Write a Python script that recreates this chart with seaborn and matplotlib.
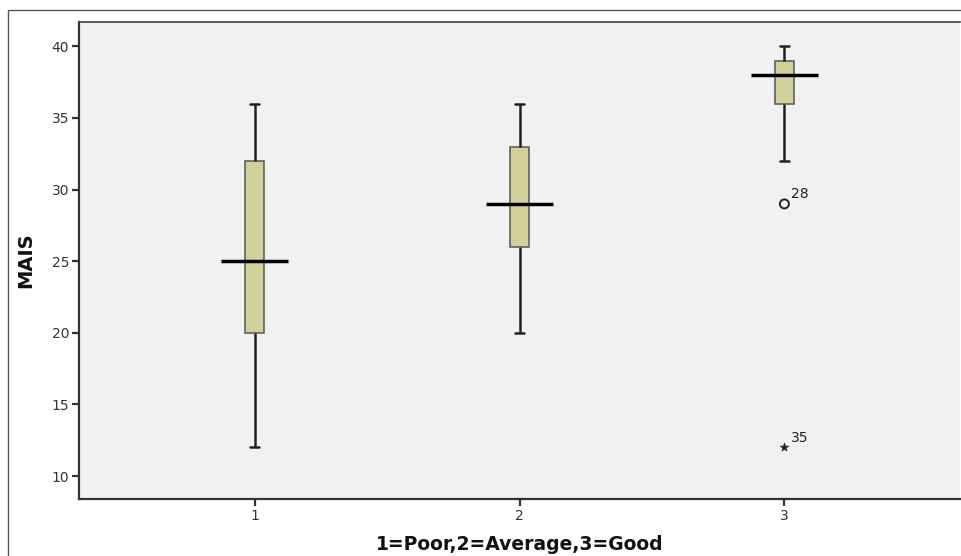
import numpy as np
import pandas as pd
import matplotlib
matplotlib.use("Agg")
import matplotlib.pyplot as plt
import seaborn as sns
from matplotlib.patches import Rectangle

# ---- data ----
categories = ["1", "2", "3"]
group1_values = [12, 20, 25, 32, 36]
group2_values = [20, 26, 29, 33, 36]
group3_values = [12, 29, 32, 36, 37, 38, 38, 38, 39, 39, 40, 40, 40]
outlier_group = ["3", "3"]
outlier_value = [29, 12]
outlier_label = ["28", "35"]
outlier_marker = ["o", "*"]
y_ticks = [10, 15, 20, 25, 30, 35, 40]
x_title = "1=Poor,2=Average,3=Good"
y_title = "MAIS"

df = pd.DataFrame({
    "group": ["1"] * len(group1_values) + ["2"] * len(group2_values) + ["3"] * len(group3_values),
    "value": group1_values + group2_values + group3_values,
})
out_df = pd.DataFrame({"group": outlier_group, "value": outlier_value,
                       "label": outlier_label, "marker": outlier_marker})

sns.set_theme(style="white")
plt.rcParams["font.family"] = ["DejaVu Sans"]

fig = plt.figure(figsize=(9.61, 5.56), dpi=100)
ax = fig.add_axes([79 / 961, 1 - 499 / 556, (960 - 79) / 961, (499 - 22) / 556])
ax.set_facecolor("#F1F1F1")

box_color = "#D4D09A"
line_color = "#222222"

sns.boxplot(data=df, x="group", y="value", order=categories, ax=ax,
            width=0.07, color=box_color, linecolor=line_color, linewidth=1.8,
            saturation=1, showfliers=False, whis=1.5,
            medianprops={"visible": False},
            boxprops={"edgecolor": "#555555", "linewidth": 1.1})

sns.boxplot(data=df, x="group", y="value", order=categories, ax=ax,
            width=0.252, fill=False, linecolor="black", linewidth=2.5,
            showfliers=False, showbox=False, showcaps=False, whis=1.5,
            whiskerprops={"visible": False},
            medianprops={"color": "black", "linewidth": 2.5})

for mk, sub in out_df.groupby("marker"):
    sns.scatterplot(data=sub, x="group", y="value", ax=ax, marker=mk,
                    s=42 if mk == "o" else 40,
                    facecolor="none" if mk == "o" else "#222222",
                    edgecolor="#222222", linewidth=1.4 if mk == "o" else 0.5,
                    legend=False, zorder=5)

cat_pos = {c: i for i, c in enumerate(categories)}
for _, r in out_df.iterrows():
    ax.annotate(r["label"], (cat_pos[r["group"]], r["value"]),
                xytext=(5, 4), textcoords="offset points",
                fontsize=10, color="#222222")

ax.set_xlim(-0.663, 2.663)
ax.set_ylim(8.4, 41.7)
ax.set_yticks(y_ticks)
ax.tick_params(axis="both", direction="out", length=5, width=1.6, color="#333333",
               labelsize=10, labelcolor="#333333", pad=2, left=True, bottom=True)

for side in ["left", "bottom"]:
    ax.spines[side].set_color("#333333")
    ax.spines[side].set_linewidth(1.6)
ax.spines["top"].set_color("#444444")
ax.spines["top"].set_linewidth(1.2)
ax.spines["right"].set_visible(False)

ax.set_xlabel(x_title, fontsize=13.5, fontweight="bold", color="#111111", labelpad=9)
ax.set_ylabel(y_title, fontsize=14, fontweight="bold", color="#111111", labelpad=12,
              family=["Liberation Sans Narrow", "DejaVu Sans Condensed", "DejaVu Sans"])

# outer frame
fig.patches.append(Rectangle((8 / 961, -0.05), 1.1, 1 - 10 / 556 + 0.05,
                             transform=fig.transFigure, fill=False,
                             edgecolor="#555555", linewidth=1.0))

fig.savefig("out.png", dpi=100)
